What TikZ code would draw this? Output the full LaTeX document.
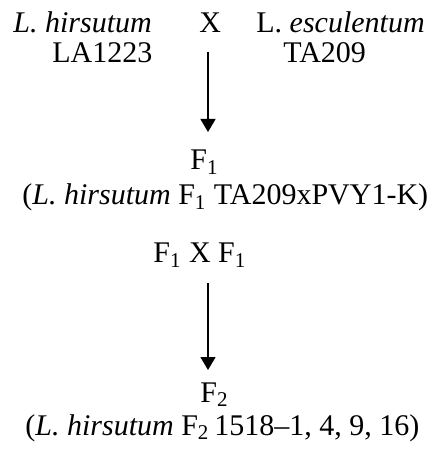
\documentclass[tikz,border=0pt]{standalone}
\usepackage{fontspec}
\setmainfont{Liberation Serif}
\usetikzlibrary{arrows.meta,positioning}

\begin{document}
\begin{tikzpicture}[x=0.5pt,y=-0.5pt,
  lbl/.style={inner sep=0pt,anchor=base west,font=\fontsize{15}{18}\selectfont},
  cross/.style={-{Triangle[width=7.5pt,length=6.5pt]},line width=0.7pt}]
  \useasboundingbox (0,0) rectangle (429,453);
  % parents
  \node[lbl] (hirs) at (13,33) {\textit{L. hirsutum}};
  \node[lbl] (x1) at (199,33) {X};
  \node[lbl] (escu) at (256,33) {L. \textit{esculentum}};
  \node[lbl] (la) at (52,63) {LA1223};
  \node[lbl] (ta) at (283,63) {TA209};
  % first generation
  \node[lbl] (f1) at (190,170) {F\textsubscript{1}};
  \node[lbl] (f1line) at (22,205) {(\textit{L. hirsutum} F\textsubscript{1} TA209xPVY1-K)};
  \node[lbl] (self) at (153,263) {F\textsubscript{1} X F\textsubscript{1}};
  % second generation
  \node[lbl] (f2) at (200,402) {F\textsubscript{2}};
  \node[lbl] (f2line) at (25,435) {(\textit{L. hirsutum} F\textsubscript{2}\,1518--1, 4, 9, 16)};
  % arrows
  \coordinate (a1) at (208,52);
  \coordinate (b1) at (208,132);
  \coordinate (a2) at (208,283);
  \coordinate (b2) at (208,370);
  \draw[cross] (a1) -- (b1);
  \draw[cross] (a2) -- (b2);
\end{tikzpicture}
\end{document}
